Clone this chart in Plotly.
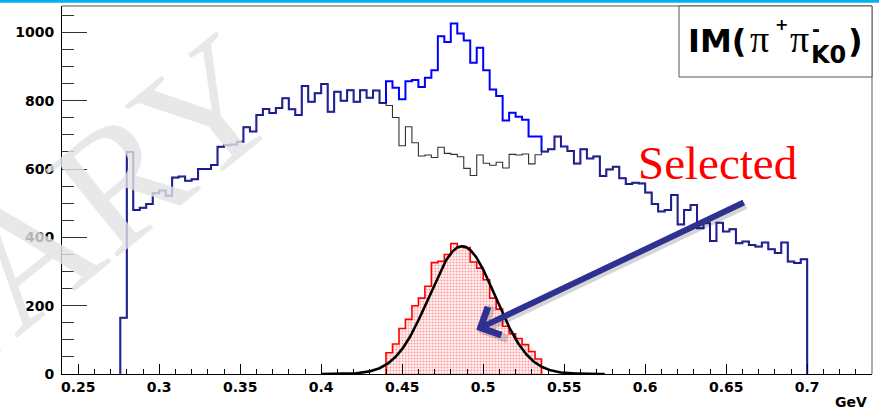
import numpy as np
import plotly.graph_objects as go

# ---- binning (GeV) ----
BIN_WIDTH = 0.004
X_RANGE = [0.24, 0.74]
Y_RANGE = [0, 1077.3]

# all pi+pi- candidates, first bin starts at 0.276 GeV
ALL_LO = 0.276
all_counts = [
    165, 650, 480, 487, 498, 529, 537, 522, 575, 578,
    566, 570, 600, 600, 612, 665, 670, 672, 680, 722,
    710, 758, 776, 764, 779, 807, 775, 758, 843, 797,
    822, 849, 768, 826, 800, 831, 797, 831, 809, 830,
    793, 857, 838, 804, 857, 861, 840, 867, 889, 989,
    972, 1026, 997, 976, 911, 955, 889, 833, 814, 742,
    765, 753, 744, 695, 695, 651, 658, 695, 666, 653,
    616, 658, 631, 637, 580, 599, 607, 573, 556, 560,
    558, 531, 498, 476, 480, 524, 438, 480, 495, 427,
    441, 389, 443, 417, 424, 383, 388, 378, 373, 385,
    365, 354, 385, 329, 325, 336,
]

# background estimate under the K0 peak (differs from all_counts only here)
BKG_LO = 0.436
bkg_core = [
    792, 786, 751, 668, 724, 677, 638, 641, 634, 664,
    646, 643, 636, 602, 581, 641, 617, 611, 620, 603,
    643, 641, 644, 615, 642,
]

# selected K0 candidates
SEL_LO = 0.440
selected_counts = [
    62, 88, 133, 160, 200, 222, 257, 326, 330, 350,
    382, 372, 370, 328, 310, 276, 222, 190, 140, 118,
    104, 86, 66, 44,
]

# gaussian fit to the selected sample
FIT_AMP, FIT_MEAN, FIT_SIGMA = 374.0, 0.487, 0.0205
FIT_RANGE = [0.40, 0.575]

# axis ticks
x_tick_vals = [0.25, 0.3, 0.35, 0.4, 0.45, 0.5, 0.55, 0.6, 0.65, 0.7]
x_tick_text = ["0.25", "0.3", "0.35", "0.4", "0.45", "0.5", "0.55", "0.6", "0.65", "0.7"]
y_tick_vals = [0, 200, 400, 600, 800, 1000]
y_tick_text = ["0", "200", "400", "600", "800", "1000"]

W, H = 879, 410
ML, MR, MT, MB = 62, 7, 6, 36
PW, PH = W - ML - MR, H - MT - MB


def px(X):
    return (X - ML) / PW


def py(Y):
    return (H - MB - Y) / PH


def step_xy(lo, counts):
    counts = np.asarray(counts, dtype=float)
    edges = lo + BIN_WIDTH * np.arange(len(counts) + 1)
    xs = np.concatenate([[edges[0]], edges])
    ys = np.concatenate([[0.0], counts, [0.0]])
    return xs, ys


# background = all candidates with the peak region replaced
bkg_counts = np.array(all_counts, dtype=float)
i0 = int(round((BKG_LO - ALL_LO) / BIN_WIDTH))
bkg_counts[i0:i0 + len(bkg_core)] = bkg_core

fig = go.Figure()

# selected: dotted red fill
sel_centers = SEL_LO + BIN_WIDTH * (np.arange(len(selected_counts)) + 0.5)
fig.add_trace(go.Bar(
    x=sel_centers, y=selected_counts, width=BIN_WIDTH,
    marker=dict(color="#ffe0e0", line=dict(width=0),
                pattern=dict(shape=".", fgcolor="#ff4040", bgcolor="#fff2f2",
                             size=3, solidity=0.35)),
    showlegend=False, hoverinfo="skip",
))
sx, sy = step_xy(SEL_LO, selected_counts)
fig.add_trace(go.Scatter(x=sx, y=sy, mode="lines", line_shape="hv",
                         line=dict(color="#ff0000", width=1.6),
                         showlegend=False, hoverinfo="skip"))

# all candidates (blue) and background (dark grey, drawn over)
ax_, ay_ = step_xy(ALL_LO, all_counts)
fig.add_trace(go.Scatter(x=ax_, y=ay_, mode="lines", line_shape="hv",
                         line=dict(color="#0000ff", width=2),
                         showlegend=False, hoverinfo="skip"))
bx, by = step_xy(ALL_LO, bkg_counts)
fig.add_trace(go.Scatter(x=bx, y=by, mode="lines", line_shape="hv",
                         line=dict(color="#333333", width=1.1),
                         showlegend=False, hoverinfo="skip"))

# gaussian fit curve
fx = np.linspace(FIT_RANGE[0], FIT_RANGE[1], 400)
fy = FIT_AMP * np.exp(-0.5 * ((fx - FIT_MEAN) / FIT_SIGMA) ** 2)
fig.add_trace(go.Scatter(x=fx, y=fy, mode="lines",
                         line=dict(color="black", width=2.6),
                         showlegend=False, hoverinfo="skip"))

tick_font = dict(family="DejaVu Sans", size=14, color="black", weight="bold")

fig.update_layout(
    width=W, height=H,
    margin=dict(l=ML, r=MR, t=MT, b=MB, pad=0),
    paper_bgcolor="white", plot_bgcolor="white",
    bargap=0, barmode="overlay",
    xaxis=dict(
        range=X_RANGE, showgrid=False, zeroline=False,
        showline=True, linecolor="black", linewidth=1,
        tickmode="array", tickvals=x_tick_vals, ticktext=x_tick_text,
        ticks="inside", ticklen=10, tickwidth=1, tickcolor="black",
        tickfont=tick_font,
        minor=dict(tickmode="array",
                   tickvals=list(np.round(np.arange(0.24, 0.7401, 0.01), 3)),
                   ticks="inside", ticklen=5, tickwidth=1, tickcolor="black"),
    ),
    yaxis=dict(
        range=Y_RANGE, showgrid=False, zeroline=False,
        showline=True, linecolor="black", linewidth=1,
        tickmode="array", tickvals=y_tick_vals, ticktext=y_tick_text,
        ticks="inside", ticklen=25, tickwidth=1, tickcolor="#333333",
        tickfont=tick_font, ticklabelstandoff=4,
        minor=dict(tickmode="array",
                   tickvals=list(range(0, 1051, 50)),
                   ticks="inside", ticklen=12, tickwidth=1, tickcolor="#333333"),
    ),
)

shapes = [
    # slide accent bar along the top edge
    dict(type="rect", xref="paper", yref="paper",
         x0=px(0), x1=px(W), y0=py(2.8), y1=py(0),
         fillcolor="#00b0f0", line=dict(width=0), layer="above"),
    # frame (top / right)
    dict(type="line", xref="paper", yref="paper", x0=0, x1=1, y0=1, y1=1,
         line=dict(color="#555555", width=1.2)),
    dict(type="line", xref="paper", yref="paper", x0=1, x1=1, y0=0, y1=1,
         line=dict(color="#777777", width=1.2)),
    # title box
    dict(type="rect", xref="paper", yref="paper",
         x0=px(679), x1=1, y0=py(77), y1=1,
         fillcolor="white", line=dict(color="#555555", width=1)),
]
fig.update_layout(shapes=shapes)


def label(X, Y, text, size, family="DejaVu Sans", color="black",
          xanchor="left", yanchor="middle", angle=0):
    return dict(xref="paper", yref="paper", x=px(X), y=py(Y), text=text,
                showarrow=False, xanchor=xanchor, yanchor=yanchor,
                textangle=angle,
                font=dict(family=family, size=size, color=color))


annotations = [
    # watermark (semi-opaque so the tick labels stay partly readable)
    label(-199, 438, "PRELIMINARY", 172, family="Liberation Serif",
          color="rgba(226,226,226,0.8)", xanchor="center", angle=-39),
    # title inside box: IM(pi+ pi-_K0)
    label(686, 41, "<b>IM(</b>", 32),
    label(748, 39, "π", 38, family="Liberation Serif"),
    label(773, 25, "<b>+</b>", 16),
    label(788, 39, "π", 38, family="Liberation Serif"),
    label(810, 29, "<b>-</b>", 19),
    label(809, 55, "<b>K0</b>", 24),
    label(846, 41, "<b>)</b>", 32),
    # axis unit
    label(869, 402, "<b>GeV</b>", 14, xanchor="right"),
    # annotation text
    label(717, 163, "Selected", 47, family="Liberation Serif",
          color="#ff0000", xanchor="center"),
]

# arrow pointing at the selected peak (shadow first, then arrow)
TIP_X, TIP_Y = 0.4957, 129.5
for color, width, xs, ys in [("rgba(0,0,0,0.16)", 7, 2, -3), ("#2e3192", 6, 0, 0)]:
    annotations.append(dict(
        x=TIP_X, y=TIP_Y, xref="x", yref="y", ax=269, ay=-128,
        axref="pixel", ayref="pixel", text="", showarrow=True,
        arrowhead=4, arrowsize=1, arrowwidth=width, arrowcolor=color,
        xshift=xs, yshift=ys,
    ))

fig.update_layout(annotations=annotations)

fig.write_html("out.html")
